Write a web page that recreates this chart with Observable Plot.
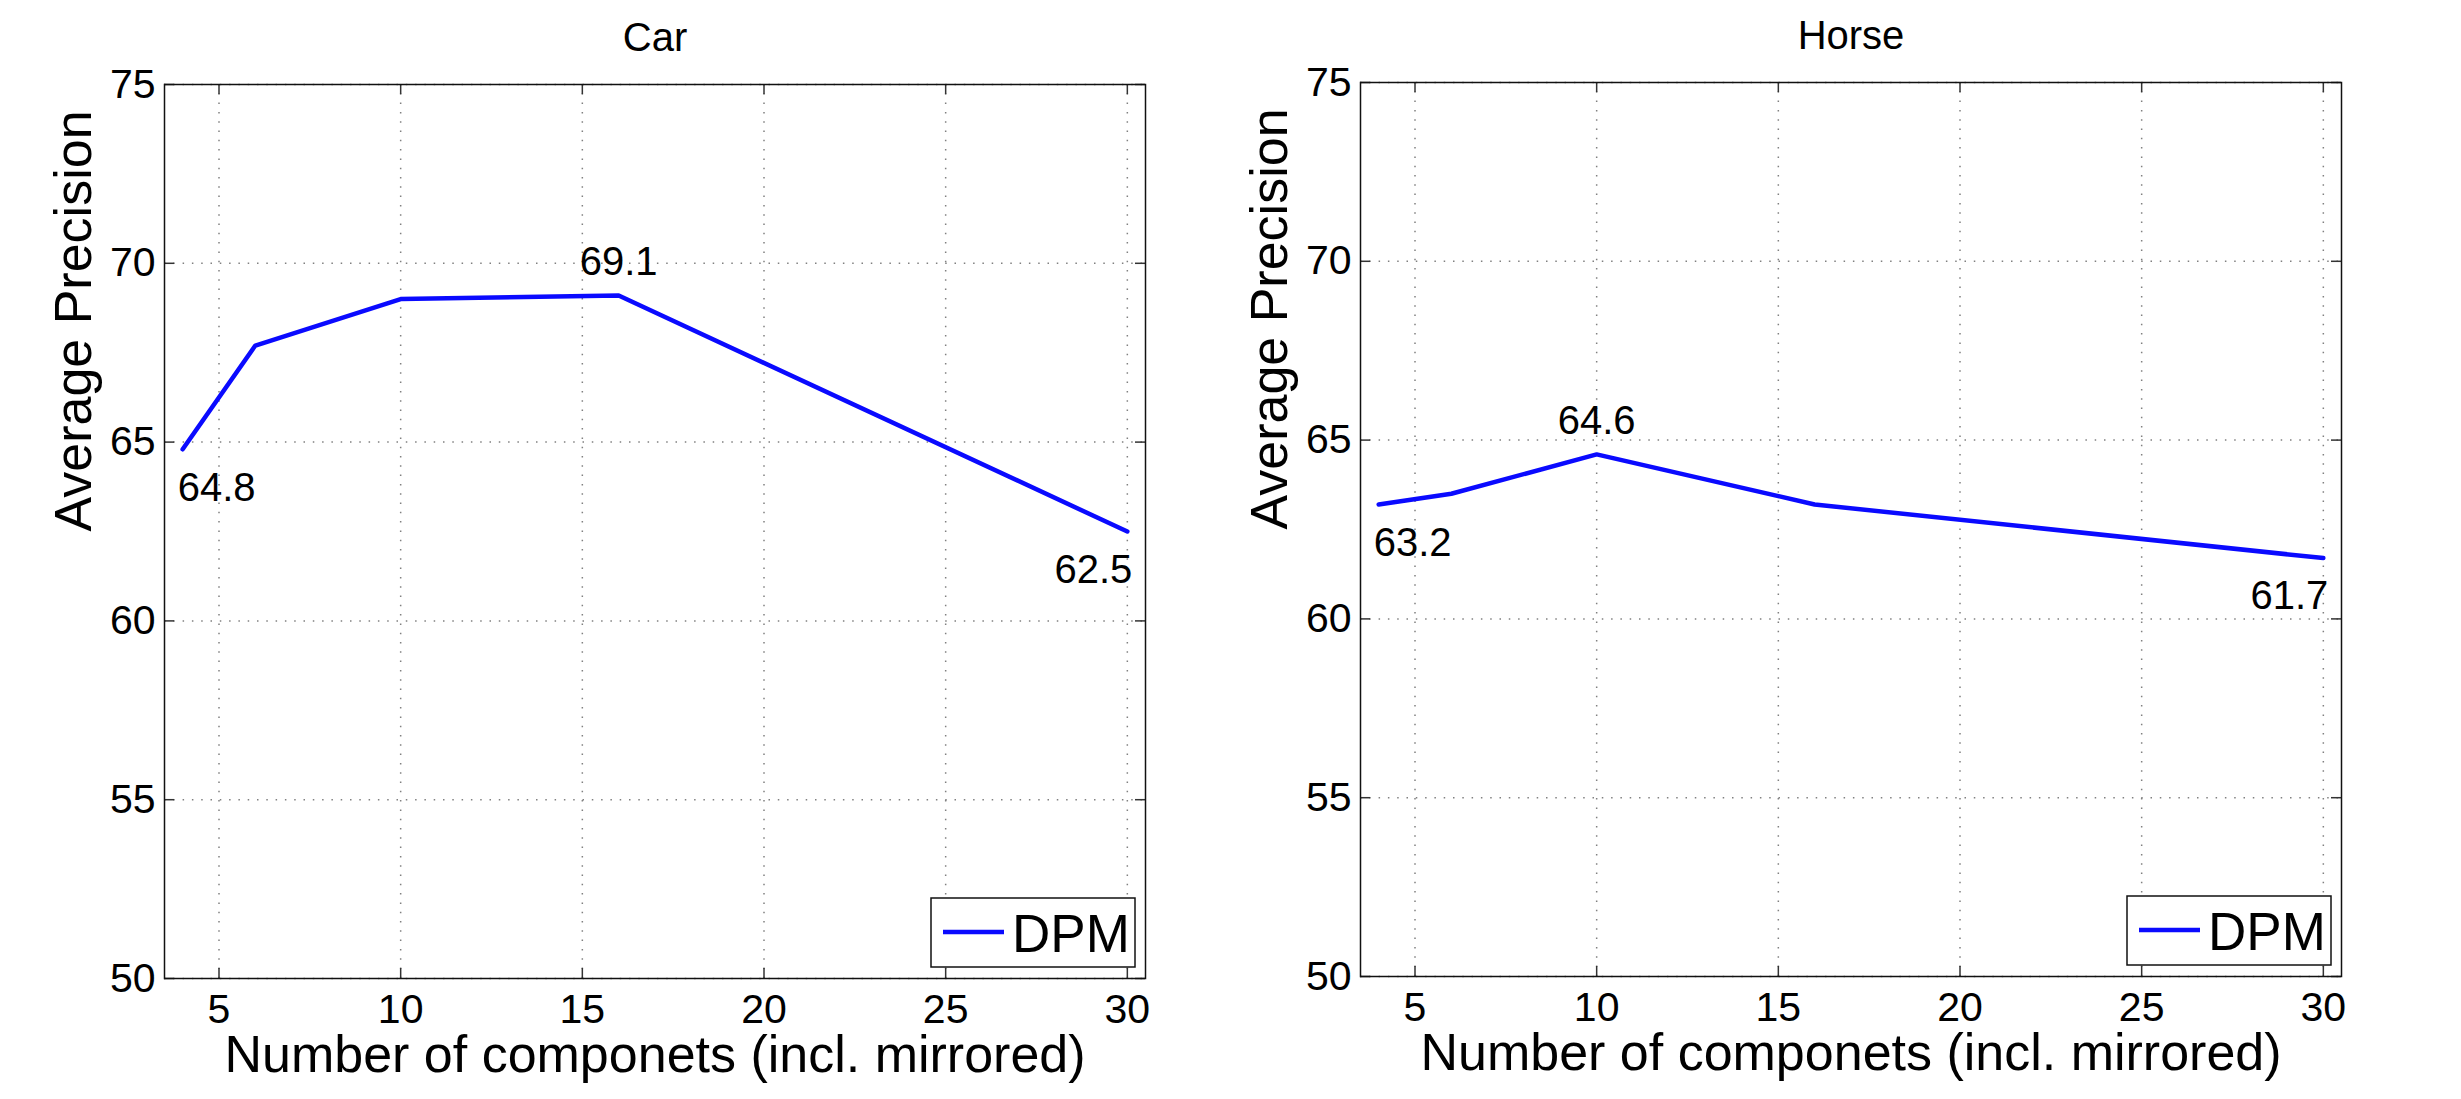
<!DOCTYPE html>
<html><head><meta charset="utf-8">
<script src="https://cdn.jsdelivr.net/npm/d3@7"></script>
<script src="https://cdn.jsdelivr.net/npm/@observablehq/plot@0.6"></script>
<style>
html,body{margin:0;padding:0;background:#fff;overflow:hidden}
#wrap{display:flex;width:2461px;height:1099px}
svg{display:block;flex:none}
</style></head><body><div id="wrap"></div>
<script>
// ---- data ----
const components = [4, 6, 10, 16, 30];
const carAP = [64.8, 67.7, 69.0, 69.1, 62.5];
const horseAP = [63.2, 63.5, 64.6, 63.2, 61.7];
const xTicks = [5, 10, 15, 20, 25, 30];
const yTicks = [50, 55, 60, 65, 70, 75];
const xDomain = [3.5, 30.5];
const yDomain = [50, 75];
const panelTitles = ["Car", "Horse"];
const seriesName = "DPM";
const xLabel = "Number of componets (incl. mirrored)";
const yLabel = "Average Precision";

const FONT = '"Liberation Sans", Arial, Helvetica, sans-serif';
const BLUE = "#0a0aff";

function legendMark(name) {
  return (index, scales, values, dims) => {
    const {width, height, marginRight, marginBottom} = dims;
    const bw = 204, bh = 69;
    const x1 = width - marginRight - 10 - bw;
    const y1 = height - marginBottom - 11 - bh;
    const g = d3.create("svg:g");
    g.append("rect").attr("x", x1).attr("y", y1).attr("width", bw).attr("height", bh)
      .attr("fill", "white").attr("stroke", "#111").attr("stroke-width", 1.5);
    g.append("line").attr("x1", x1 + 12).attr("x2", x1 + 73).attr("y1", y1 + 34).attr("y2", y1 + 34)
      .attr("stroke", BLUE).attr("stroke-width", 4.5);
    g.append("text").attr("x", x1 + 81).attr("y", y1 + 54).attr("font-size", 53)
      .attr("text-anchor", "start")
      .attr("font-family", FONT).attr("fill", "#000").text(name);
    return g.node();
  };
}

function panel(title, ys, m) {
  const data = components.map((x, i) => ({x, y: ys[i]}));
  const first = data[0], last = data[data.length - 1];
  const peak = data.reduce((a, b) => (b.y > a.y ? b : a));
  const H = 1099;
  const fh = H - m.top - m.bottom;
  const fw = m.width - m.left - m.right;
  const tickStyle = {stroke: "#333", strokeWidth: 1.5};
  const gridStyle = {stroke: "#808080", strokeOpacity: 1, strokeWidth: 1.5, strokeDasharray: "1.5,7.8"};
  return Plot.plot({
    width: m.width, height: H,
    marginLeft: m.left, marginRight: m.right, marginTop: m.top, marginBottom: m.bottom,
    style: {fontFamily: FONT, color: "#000", background: "white", overflow: "visible"},
    x: {domain: xDomain},
    y: {domain: yDomain},
    marks: [
      Plot.gridX(xTicks, gridStyle),
      Plot.gridY(yTicks, gridStyle),
      Plot.ruleX(xTicks, {x: d => d, insetTop: fh - 10, ...tickStyle}),
      Plot.ruleX(xTicks, {x: d => d, insetBottom: fh - 10, ...tickStyle}),
      Plot.ruleY(yTicks, {y: d => d, insetRight: fw - 10, ...tickStyle}),
      Plot.ruleY(yTicks, {y: d => d, insetLeft: fw - 10, ...tickStyle}),
      Plot.axisX({ticks: xTicks, tickSize: 0, tickPadding: 15, fontSize: 41, label: null}),
      Plot.axisY({ticks: yTicks, tickSize: 0, tickPadding: 9, fontSize: 41, label: null}),
      Plot.line(data, {x: "x", y: "y", stroke: BLUE, strokeWidth: 4.5, strokeLinejoin: "miter"}),
      Plot.text([first], {x: "x", y: "y", text: d => d.y.toFixed(1), textAnchor: "start", lineAnchor: "bottom", dx: -5, dy: 52, fontSize: 40}),
      Plot.text([peak], {x: "x", y: "y", text: d => d.y.toFixed(1), textAnchor: "middle", lineAnchor: "bottom", dy: -20, fontSize: 40}),
      Plot.text([last], {x: "x", y: "y", text: d => d.y.toFixed(1), textAnchor: "end", lineAnchor: "bottom", dx: 5, dy: 51, fontSize: 40}),
      Plot.frame({stroke: "#111", strokeWidth: 1.5}),
      legendMark(seriesName),
      Plot.text([title], {text: d => d, frameAnchor: "top", lineAnchor: "bottom", dy: -34, fontSize: 40}),
      Plot.text([xLabel], {text: d => d, frameAnchor: "bottom", lineAnchor: "bottom", dy: 93, fontSize: 52}),
      Plot.text([yLabel], {text: d => d, frameAnchor: "left", lineAnchor: "bottom", rotate: -90, dx: -74, fontSize: 52})
    ]
  });
}

const wrap = document.getElementById("wrap");
wrap.append(panel(panelTitles[0], carAP, {width: 1230, left: 164, right: 85, top: 84, bottom: 121}));
wrap.append(panel(panelTitles[1], horseAP, {width: 1231, left: 130, right: 120, top: 82, bottom: 123}));
</script>
</body></html>
